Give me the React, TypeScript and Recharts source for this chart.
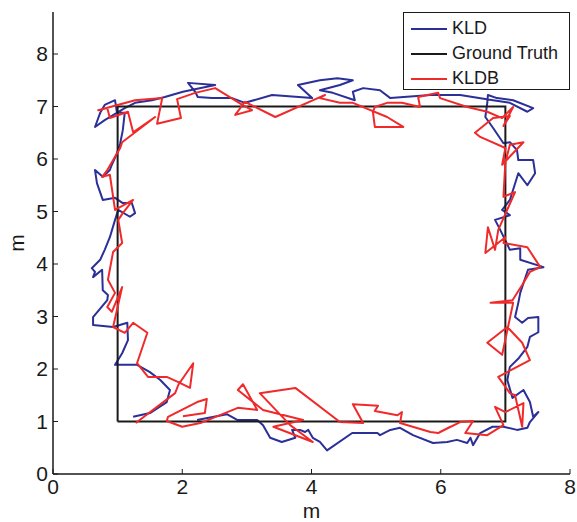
import React from 'react';
import { LineChart, Line, XAxis, YAxis, Legend } from 'recharts';

const xTicks = [0, 2, 4, 6, 8];
const yTicks = [0, 1, 2, 3, 4, 5, 6, 7, 8];
const seriesOrder = ['KLD', 'Ground Truth', 'KLDB'];

// reference square walked by the robot
const groundTruth = [[1, 1], [7, 1], [7, 7], [1, 7], [1, 1]];

// KLD estimate, (x, y) in metres
const kldPath = [
  [2.23, 1.03], [2.69, 1.14], [2.85, 1.03], [3.16, 1.03], [3.25, 0.93], [3.36, 0.69], [3.54, 0.61], [3.75, 0.69],
  [3.70, 0.84], [3.82, 0.84], [3.90, 0.80], [3.95, 0.84], [4.02, 0.69], [4.13, 0.61], [4.24, 0.45], [4.63, 0.78],
  [5.02, 0.78], [5.06, 0.74], [5.22, 0.84], [5.37, 0.88], [5.57, 0.74], [5.88, 0.59], [6.10, 0.61], [6.25, 0.65],
  [6.41, 0.59], [6.46, 0.69], [6.50, 0.55], [6.61, 0.78], [6.80, 0.90], [6.97, 0.90], [7.18, 0.84], [7.34, 0.88],
  [7.38, 0.99], [7.51, 1.18], [7.43, 1.09], [7.38, 1.37], [7.28, 1.60], [7.11, 1.45], [7.03, 1.79], [7.07, 2.04],
  [7.21, 2.21], [7.34, 2.42], [7.38, 2.61], [7.51, 2.70], [7.51, 2.99], [7.35, 2.97], [7.26, 2.88], [7.15, 2.99],
  [7.20, 3.26], [7.23, 3.45], [7.35, 3.89], [7.59, 3.94], [7.23, 4.08], [7.23, 4.30], [7.07, 4.27], [6.92, 4.65],
  [6.84, 4.84], [7.07, 4.93], [6.95, 5.03], [7.07, 5.22], [7.20, 5.73], [7.34, 5.50], [7.46, 5.73], [7.43, 5.98],
  [7.20, 5.98], [7.18, 6.17], [7.07, 6.32], [6.97, 6.30], [6.80, 6.61], [6.69, 6.80], [6.72, 7.07], [6.73, 7.22],
  [6.87, 7.16], [7.12, 7.12], [7.43, 6.97], [7.34, 6.90], [7.07, 7.07], [6.81, 7.12], [6.30, 7.22], [5.84, 7.22],
  [5.22, 7.16], [5.06, 7.31], [4.80, 7.35], [4.64, 7.28], [4.67, 7.12], [4.33, 7.26], [4.13, 7.31], [4.44, 7.41],
  [4.64, 7.50], [4.40, 7.54], [4.13, 7.50], [3.79, 7.41], [4.01, 7.16], [3.39, 7.22], [2.97, 7.07], [2.77, 7.16],
  [2.46, 7.16], [2.24, 7.18], [2.20, 7.28], [2.09, 7.45], [2.51, 7.41], [2.01, 7.28], [1.73, 7.18], [1.53, 7.12],
  [1.27, 7.07], [1.11, 6.97], [0.80, 6.74], [0.65, 6.61], [0.73, 6.88], [0.80, 7.03], [0.96, 7.12], [0.99, 6.88],
  [1.11, 6.88], [1.08, 6.55], [1.04, 6.30], [0.99, 6.11], [0.91, 5.89], [0.88, 5.79], [0.77, 5.66], [0.65, 5.79],
  [0.68, 5.54], [0.77, 5.22], [0.96, 5.26], [1.08, 5.16], [1.22, 5.16], [1.27, 4.97], [1.19, 4.90], [1.01, 5.03],
  [0.96, 4.84], [0.88, 4.51], [0.80, 4.27], [0.73, 4.08], [0.60, 3.92], [0.65, 3.85], [0.62, 3.75], [0.76, 3.89],
  [0.77, 3.50], [0.85, 3.41], [0.84, 3.31], [0.62, 2.99], [0.62, 2.84], [0.93, 2.80], [1.15, 2.88], [1.16, 2.55],
  [1.07, 2.30], [0.96, 2.08], [1.30, 2.08], [1.50, 1.94], [1.66, 1.79], [1.81, 1.60], [1.76, 1.37], [1.50, 1.16],
  [1.24, 1.09],
];

// KLDB estimate, (x, y) in metres
const kldbPath = [
  [2.01, 1.10], [2.35, 1.16], [2.38, 1.43], [2.23, 1.37], [1.78, 1.09], [1.76, 1.01], [2.00, 0.90], [2.28, 0.97],
  [2.66, 1.16], [2.86, 1.26], [3.16, 1.22], [2.94, 1.71], [2.86, 1.60], [3.25, 1.22], [3.87, 1.03], [3.41, 0.90],
  [4.02, 0.61], [3.67, 0.93], [3.20, 1.54], [3.75, 1.64], [4.44, 0.99], [4.80, 0.97], [4.64, 1.33], [5.03, 1.30],
  [4.98, 1.20], [5.33, 1.12], [5.40, 1.18], [5.37, 0.97], [5.84, 0.80], [5.96, 0.78], [6.15, 0.90], [5.99, 0.80],
  [6.30, 0.99], [6.50, 1.01], [6.38, 0.78], [6.72, 0.74], [6.97, 0.93], [6.84, 1.28], [7.00, 1.18], [7.28, 1.35],
  [7.26, 0.90], [7.15, 1.50], [7.07, 1.54], [6.89, 1.85], [7.38, 2.17], [7.26, 2.50], [7.03, 2.80], [6.72, 2.50],
  [6.95, 2.27], [7.12, 3.26], [6.77, 3.26], [7.11, 3.31], [7.26, 3.60], [7.38, 3.85], [7.54, 3.94], [7.34, 4.32],
  [6.97, 4.40], [7.00, 4.51], [6.69, 4.21], [6.73, 4.70], [6.84, 4.27], [6.89, 4.65], [7.15, 5.37], [6.97, 5.28],
  [7.00, 5.94], [7.07, 6.27], [7.28, 6.32], [6.95, 5.89], [7.00, 6.21], [6.61, 6.42], [6.53, 6.50], [6.81, 6.78],
  [7.07, 6.82], [6.97, 6.63], [7.12, 6.99], [6.95, 6.78], [6.72, 6.90], [6.41, 6.99], [5.99, 7.16], [5.96, 7.26],
  [5.65, 7.18], [5.68, 6.99], [5.40, 7.07], [5.17, 7.07], [4.98, 6.99], [4.95, 6.90], [4.98, 6.61], [5.42, 6.61],
  [5.17, 6.80], [4.64, 7.07], [4.44, 7.07], [4.13, 7.16], [4.21, 7.22], [3.44, 6.80], [2.97, 7.09], [2.82, 6.84],
  [3.08, 6.93], [2.93, 7.03], [2.51, 7.35], [2.20, 7.26], [1.92, 7.14], [1.98, 6.78], [1.61, 6.67], [1.69, 7.16],
  [1.27, 7.12], [0.70, 6.93], [0.84, 6.97], [0.88, 6.78], [1.16, 6.90], [1.24, 6.51], [1.58, 6.80], [1.07, 6.32],
  [1.04, 6.21], [0.84, 5.79], [0.76, 5.66], [0.88, 5.70], [0.96, 5.03], [1.24, 5.22], [1.08, 4.97], [1.01, 4.84],
  [1.07, 4.40], [0.93, 4.23], [0.85, 3.70], [0.96, 3.45], [0.84, 3.18], [0.91, 3.09], [1.07, 3.56], [0.93, 2.80],
  [1.11, 2.69], [1.24, 2.88], [1.46, 2.69], [1.30, 2.11], [1.47, 1.85], [1.76, 1.85], [1.94, 1.75], [2.12, 1.64],
  [2.17, 2.11], [1.94, 1.70], [1.89, 1.54], [1.28, 0.97],
];

const toPoints = (path: number[][]) => path.map(([x, y]) => ({ x, y }));

const FONT = '"Liberation Sans", Arial, Helvetica, sans-serif';
const INK = '#1a1a1a';
const BLUE = '#2b2f98';
const RED = '#f02a2a';
const tickStyle = { fontSize: 21, fill: INK, fontFamily: FONT };

const renderLegend = ({ payload }: any) => {
  const items = [...(payload || [])].sort(
    (a: any, b: any) => seriesOrder.indexOf(a.value) - seriesOrder.indexOf(b.value)
  );
  return (
    <div
      style={{
        width: 167,
        height: 78,
        boxSizing: 'border-box',
        border: `1px solid ${INK}`,
        padding: '3px 0 0 7px',
        fontFamily: FONT,
        fontSize: 18,
        color: INK,
      }}
    >
      {items.map((p: any) => (
        <div key={p.value} style={{ display: 'flex', alignItems: 'center', height: 25 }}>
          <span style={{ width: 36, borderTop: `2px solid ${p.color}`, marginRight: 5 }} />
          <span>{p.value}</span>
        </div>
      ))}
    </div>
  );
};

const YTitle = ({ viewBox }: any) => {
  const cx = viewBox.x + 24;
  const cy = viewBox.y + viewBox.height / 2;
  return (
    <text x={cx} y={cy} transform={`rotate(-90 ${cx} ${cy})`} textAnchor="middle" fontSize={21} fontFamily={FONT} fill={INK}>
      m
    </text>
  );
};

export default function App() {
  return (
    <div style={{ position: 'absolute', left: 0, top: 0, background: '#fff' }}>
      <LineChart width={577} height={522} margin={{ top: 12, right: 7, bottom: 0, left: 0 }}>
        <XAxis
          dataKey="x"
          type="number"
          domain={[0, 8]}
          ticks={xTicks}
          allowDataOverflow
          height={48}
          tickSize={-5}
          tickMargin={10}
          tick={tickStyle}
          axisLine={{ stroke: INK, strokeWidth: 1.5 }}
          tickLine={{ stroke: INK }}
          label={{ value: 'm', position: 'insideBottom', offset: 4, fontSize: 21, fontFamily: FONT, fill: INK }}
        />
        <XAxis
          xAxisId="top"
          orientation="top"
          dataKey="x"
          type="number"
          domain={[0, 8]}
          ticks={xTicks}
          allowDataOverflow
          height={0}
          tickSize={-5}
          tick={false}
          axisLine={{ stroke: INK, strokeWidth: 1.5 }}
          tickLine={{ stroke: INK }}
        />
        <YAxis
          type="number"
          domain={[0, 8.8]}
          ticks={yTicks}
          allowDataOverflow
          width={53}
          tickSize={-5}
          tickMargin={10}
          tick={tickStyle}
          axisLine={{ stroke: INK, strokeWidth: 1.5 }}
          tickLine={{ stroke: INK }}
          label={<YTitle />}
        />
        <YAxis
          yAxisId="right"
          orientation="right"
          type="number"
          domain={[0, 8.8]}
          ticks={yTicks}
          allowDataOverflow
          width={0}
          tickSize={-5}
          tick={false}
          axisLine={{ stroke: INK, strokeWidth: 1.5 }}
          tickLine={{ stroke: INK }}
        />
        <Legend
          layout="vertical"
          align="center"
          verticalAlign="middle"
          wrapperStyle={{ left: 403, top: 12, width: 167 }}
          content={renderLegend}
        />
        <Line
          name="KLD"
          data={toPoints(kldPath)}
          dataKey="y"
          stroke={BLUE}
          strokeWidth={2}
          strokeLinejoin="round"
          dot={false}
          activeDot={false}
          isAnimationActive={false}
        />
        <Line
          name="Ground Truth"
          data={toPoints(groundTruth)}
          dataKey="y"
          stroke={INK}
          strokeWidth={2}
          dot={false}
          activeDot={false}
          isAnimationActive={false}
        />
        <Line
          name="KLDB"
          data={toPoints(kldbPath)}
          dataKey="y"
          stroke={RED}
          strokeWidth={2}
          strokeLinejoin="round"
          dot={false}
          activeDot={false}
          isAnimationActive={false}
        />
      </LineChart>
    </div>
  );
}
